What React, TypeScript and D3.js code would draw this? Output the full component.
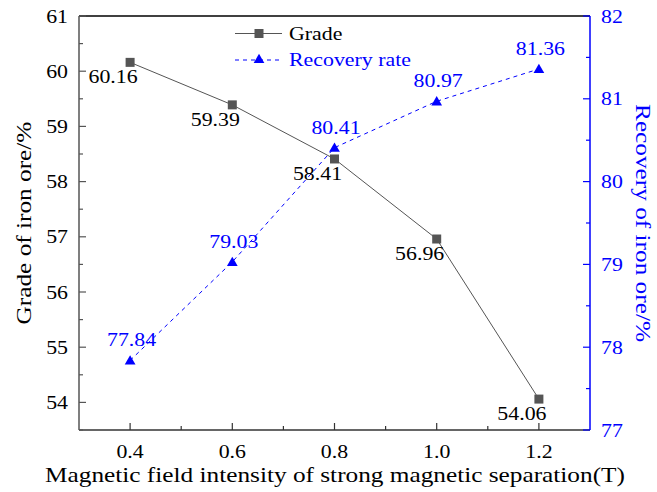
import React from "react";
import * as d3 from "d3";

const fields = [0.4, 0.6, 0.8, 1.0, 1.2];
const grade = [60.16, 59.39, 58.41, 56.96, 54.06];
const recovery = [77.84, 79.03, 80.41, 80.97, 81.36];
const xTicks = [0.4, 0.6, 0.8, 1.0, 1.2];
const xMinor = [0.5, 0.7, 0.9, 1.1];
const leftTicks = [54, 55, 56, 57, 58, 59, 60, 61];
const leftMinor = [53.5, 54.5, 55.5, 56.5, 57.5, 58.5, 59.5, 60.5];
const rightTicks = [77, 78, 79, 80, 81, 82];
const rightMinor = [77.5, 78.5, 79.5, 80.5, 81.5];

const W = 657, H = 492;
const L = 79, R = 590, T = 16, B = 430;
const FONT = "Liberation Serif";
const BLUE = "#0000ff";
const GRAY = "#555555";
const SX = 1.15;

function Txt(props: { x: number; y: number; size: number; anchor?: string; fill?: string; rot?: number; children: any }) {
  const { x, y, size, anchor = "start", fill = "#000", rot = 0, children } = props;
  return (
    <text
      transform={`translate(${x},${y}) rotate(${rot}) scale(${SX},1)`}
      style={{ fontFamily: FONT, fontSize: size + "px" }}
      textAnchor={anchor}
      fill={fill}
    >
      {children}
    </text>
  );
}

export default function App() {
  const x = d3.scaleLinear().domain([0.3, 1.3]).range([L, R]);
  const yL = d3.scaleLinear().domain([53.5, 61]).range([B, T]);
  const yR = d3.scaleLinear().domain([77, 82]).range([B, T]);
  const gradeLine = d3.line<number>().x((_, i) => x(fields[i])).y((d) => yL(d))(grade) || "";
  const recLine = d3.line<number>().x((_, i) => x(fields[i])).y((d) => yR(d))(recovery) || "";
  const tri = d3.symbol().type(d3.symbolTriangle).size(50)() || "";
  const fs = 19;
  return (
    <svg width={W} height={H} style={{ position: "absolute", left: 0, top: 0, background: "#fff" }}>
      <rect x={0} y={0} width={W} height={H} fill="#fff" />
      <path d={gradeLine} fill="none" stroke={GRAY} strokeWidth={1} />
      <path d={recLine} fill="none" stroke={BLUE} strokeWidth={1} strokeDasharray="4,4" />
      {grade.map((v, i) => (
        <rect key={"g" + i} x={x(fields[i]) - 4.5} y={yL(v) - 4.5} width={9} height={9} fill={GRAY} />
      ))}
      {recovery.map((v, i) => (
        <path key={"r" + i} d={tri} transform={`translate(${x(fields[i])},${yR(v) + 1})`} fill={BLUE} />
      ))}
      {grade.map((v, i) => (
        <Txt key={"gl" + i} x={x(fields[i]) - 17} y={yL(v) + 21} size={fs} anchor="middle">
          {v.toFixed(2)}
        </Txt>
      ))}
      {recovery.map((v, i) => (
        <Txt key={"rl" + i} x={x(fields[i]) + 1.5} y={yR(v) - 14} size={fs} anchor="middle" fill={BLUE}>
          {v.toFixed(2)}
        </Txt>
      ))}
      <line x1={L} x2={R} y1={T} y2={T} stroke="#000" strokeWidth={1.5} />
      <line x1={L} x2={R} y1={B} y2={B} stroke="#333" strokeWidth={1.5} />
      <line x1={L} x2={L} y1={T} y2={B} stroke={GRAY} strokeWidth={1.5} />
      <line x1={R} x2={R} y1={T} y2={B} stroke={BLUE} strokeWidth={1.5} />
      {xTicks.map((t) => (
        <g key={"xt" + t}>
          <line x1={x(t)} x2={x(t)} y1={B} y2={B - 7} stroke="#333" strokeWidth={1.2} />
          <Txt x={x(t)} y={458} size={fs} anchor="middle">{t.toFixed(1)}</Txt>
        </g>
      ))}
      {xMinor.map((t) => (
        <line key={"xm" + t} x1={x(t)} x2={x(t)} y1={B} y2={B - 4} stroke="#333" strokeWidth={1.2} />
      ))}
      {leftTicks.map((t) => (
        <g key={"lt" + t}>
          <line x1={L} x2={L + 7} y1={yL(t)} y2={yL(t)} stroke={GRAY} strokeWidth={1.2} />
          <Txt x={L - 11} y={yL(t) + 6.5} size={fs} anchor="end">{t}</Txt>
        </g>
      ))}
      {leftMinor.map((t) => (
        <line key={"lm" + t} x1={L} x2={L + 4} y1={yL(t)} y2={yL(t)} stroke={GRAY} strokeWidth={1.2} />
      ))}
      {rightTicks.map((t) => (
        <g key={"rt" + t}>
          <line x1={R} x2={R - 7} y1={yR(t)} y2={yR(t)} stroke={BLUE} strokeWidth={1.2} />
          <Txt x={R + 11} y={yR(t) + 6.5} size={fs} anchor="start" fill={BLUE}>{t}</Txt>
        </g>
      ))}
      {rightMinor.map((t) => (
        <line key={"rm" + t} x1={R} x2={R - 4} y1={yR(t)} y2={yR(t)} stroke={BLUE} strokeWidth={1.2} />
      ))}
      <Txt x={335} y={482} size={22} anchor="middle">
        Magnetic field intensity of strong magnetic separation(T)
      </Txt>
      <Txt x={31} y={(T + B) / 2} size={22} anchor="middle" rot={-90}>
        Grade of iron ore/%
      </Txt>
      <Txt x={636} y={(T + B) / 2} size={22} anchor="middle" rot={90} fill={BLUE}>
        Recovery of iron ore/%
      </Txt>
      <line x1={235} x2={282} y1={33.5} y2={33.5} stroke={GRAY} strokeWidth={1} />
      <rect x={254.5} y={29} width={9} height={9} fill={GRAY} />
      <Txt x={289} y={40} size={fs}>Grade</Txt>
      <line x1={235} x2={282} y1={60} y2={60} stroke={BLUE} strokeWidth={1} strokeDasharray="4,4" />
      <path d={tri} transform="translate(259,60)" fill={BLUE} />
      <Txt x={289} y={66} size={fs} fill={BLUE}>Recovery rate</Txt>
    </svg>
  );
}
